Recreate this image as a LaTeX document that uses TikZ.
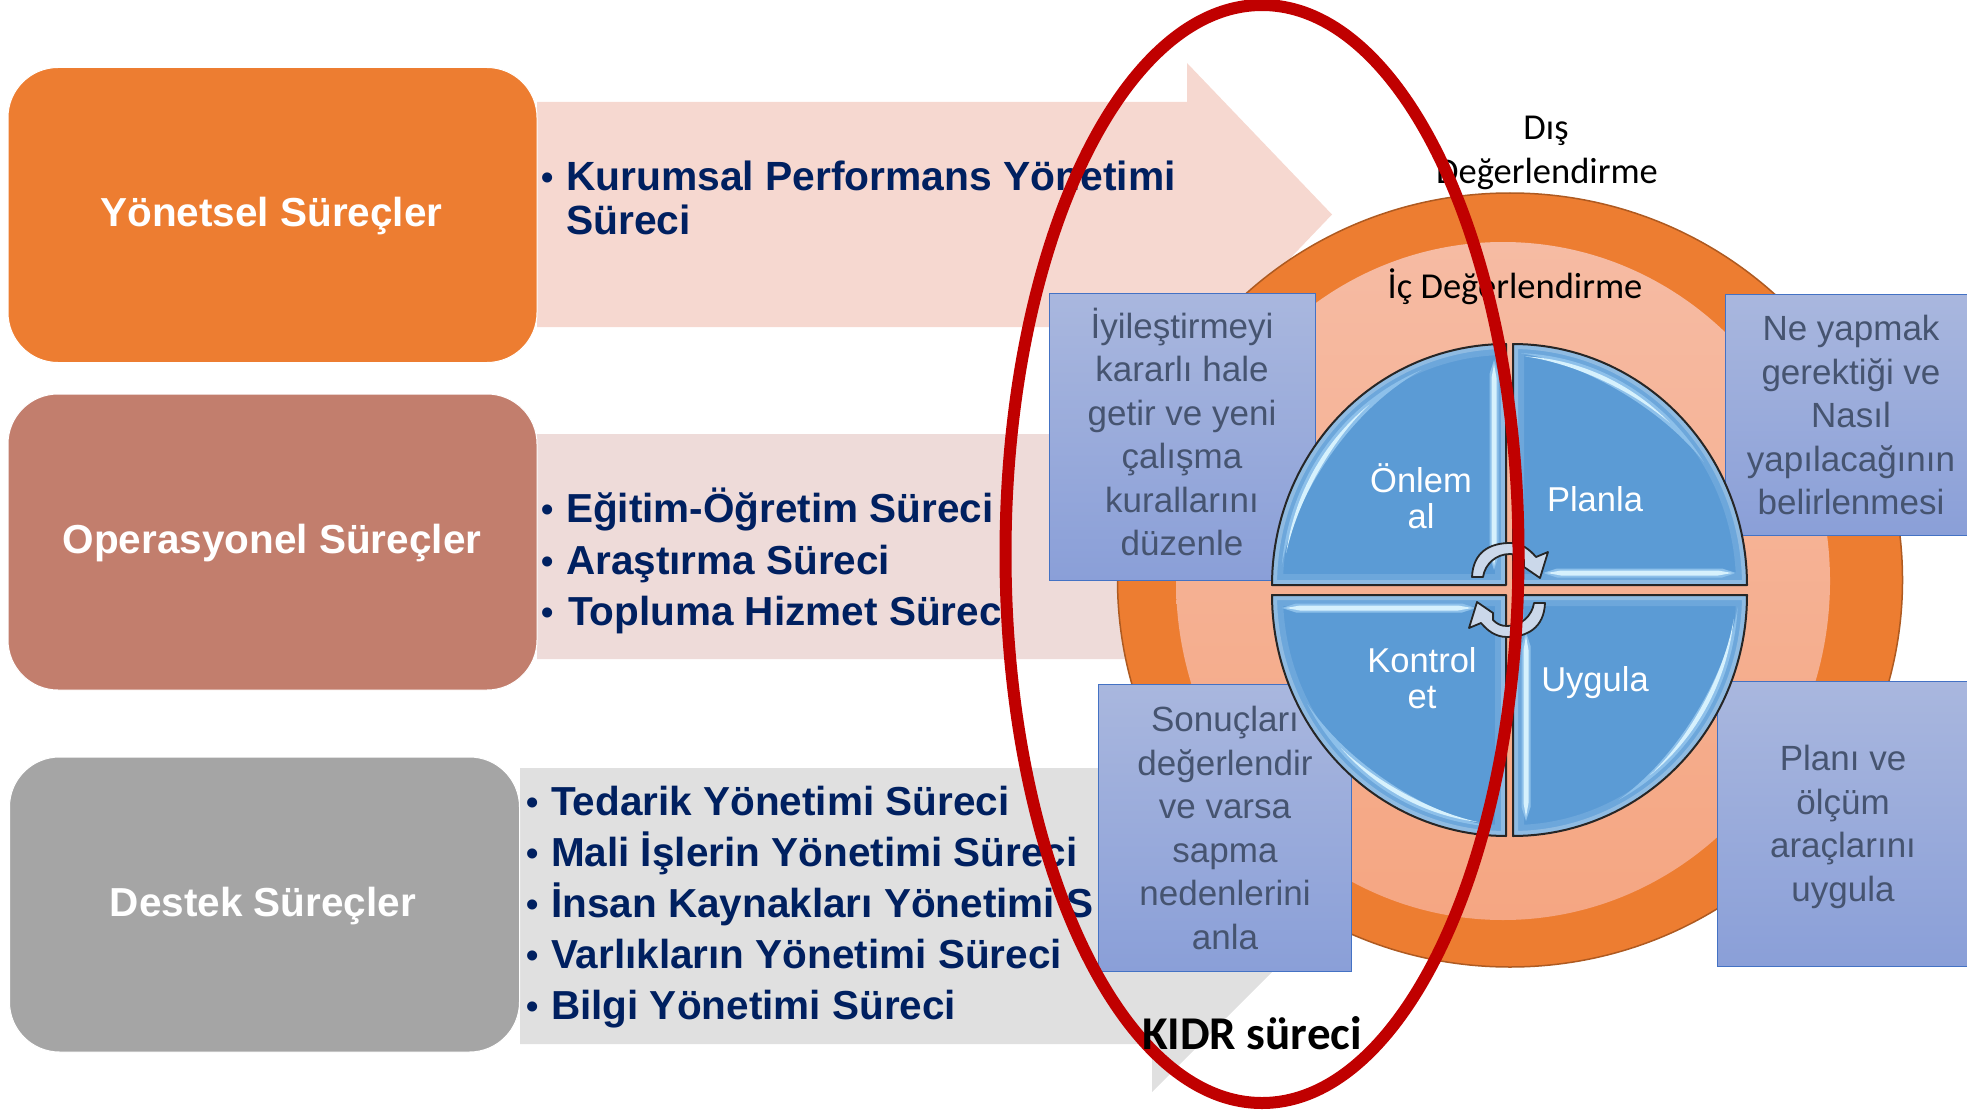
\documentclass[tikz,border=0pt]{standalone}
\usepackage{fontspec}
\setmainfont{Liberation Sans}
\newfontfamily\calib{Carlito}
\usetikzlibrary{shapes.geometric}
\definecolor{cOrange}{HTML}{ED7D31}
\definecolor{cEdge}{HTML}{AE5A21}
\definecolor{cBrown}{HTML}{C27E6D}
\definecolor{cGrey}{HTML}{A5A5A5}
\definecolor{cBandA}{HTML}{F6D8D0}
\definecolor{cBandB}{HTML}{EEDBD9}
\definecolor{cBandC}{HTML}{E0E0E0}
\definecolor{cNavy}{HTML}{002060}
\definecolor{cBlue}{HTML}{5B9BD5}
\definecolor{cGlow}{HTML}{D6F1FD}
\definecolor{cSoft}{HTML}{8DC0EA}
\definecolor{cRimA}{HTML}{8FBBE2}
\definecolor{cRimB}{HTML}{6DA7DB}
\definecolor{cRed}{HTML}{C00000}
\definecolor{cNote}{HTML}{465470}
\definecolor{cTurn}{HTML}{CBD8EA}
\definecolor{cInnerTop}{HTML}{F6BBA3}
\definecolor{cInnerBot}{HTML}{F5A682}
\definecolor{cNoteEdge}{HTML}{4472C4}
\definecolor{cNoteTop}{HTML}{A9B7DE}
\definecolor{cNoteBot}{HTML}{8A9FD8}
\tikzset{
  headbox/.style={draw=white,line width=1pt,rounded corners=50pt,inner sep=0pt,outer sep=0pt},
  headtext/.style={anchor=base,text=white,inner sep=0pt,font=\fontsize{40.5}{48}\selectfont\bfseries},
  listline/.style={anchor=base west,inner sep=0pt,outer sep=0pt,text=cNavy,
    font=\fontsize{40.5}{48}\selectfont\bfseries},
  notebox/.style={draw=cNoteEdge,line width=1pt,top color=cNoteTop,bottom color=cNoteBot,text=cNote,
    align=center,inner sep=0pt,outer sep=0pt,font=\fontsize{35}{43.5}\selectfont},
  pielabel/.style={anchor=base,inner sep=0pt,text=white,font=\fontsize{34.5}{36}\selectfont},
  evallabel/.style={anchor=base,inner sep=0pt,text=black,font=\calib\fontsize{36.5}{44}\selectfont},
  turnarrow/.style={fill=cTurn,draw=black!85,line width=1.8pt,line join=round}
}
\newcommand{\blt}{\makebox[25pt][l]{\raisebox{1pt}{\fontsize{35}{35}\selectfont •}}}
\newcommand{\turnshape}{(-38,-1) .. controls (-37,-26) and (-20,-35) .. (0,-35)
  .. controls (12,-35) and (20,-28) .. (26,-21) -- (38,-26) -- (30,0) -- (14,-11) -- (14,-18)
  .. controls (10,-22) and (6,-24) .. (0,-24) .. controls (-14,-24) and (-25,-14) .. (-27,-1) -- cycle}
% quarter: corner x, corner y, from angle, to angle
\newcommand{\quarterdisc}[4]{%
  \begin{scope}
    \clip (#1,#2) -- plot[domain=#3:#4,samples=50] ({#1+234*cos(\x)},{#2-241*sin(\x)}) -- cycle;
    \fill[cBlue] (#1-240,#2-250) rectangle (#1+240,#2+250);
    \draw[cRimB,line width=22pt] (#1,#2) -- plot[domain=#3:#4,samples=50] ({#1+234*cos(\x)},{#2-241*sin(\x)}) -- cycle;
    \draw[cRimA,line width=10pt] (#1,#2) -- plot[domain=#3:#4,samples=50] ({#1+234*cos(\x)},{#2-241*sin(\x)}) -- cycle;
  \end{scope}}
\newcommand{\quarteredge}[4]{%
  \draw[black!85,line width=2pt,line join=round] (#1,#2) -- plot[domain=#3:#4,samples=50] ({#1+234*cos(\x)},{#2-241*sin(\x)}) -- cycle;}
% tapered arc: corner x, y, from, to, inset, width, colour
\newcommand{\lensarc}[7]{%
  \fill[#7] plot[domain=#3:#4,samples=30] ({#1+(234-#5)*cos(\x)},{#2-(241-#5)*sin(\x)})
    -- plot[domain=#4:#3,samples=30] ({#1+(234-#5-#6*sin((\x-(#3))/((#4)-(#3))*180))*cos(\x)},{#2-(241-#5-#6*sin((\x-(#3))/((#4)-(#3))*180))*sin(\x)}) -- cycle;}
% tapered straight bars: from, to, position, half width, colour
\newcommand{\barH}[5]{\fill[#5] (#1,#3) -- (#1+14,#3-#4) -- (#2-14,#3-#4) -- (#2,#3) -- (#2-14,#3+#4) -- (#1+14,#3+#4) -- cycle;}
\newcommand{\barV}[5]{\fill[#5] (#3,#1) -- (#3-#4,#1+14) -- (#3-#4,#2-14) -- (#3,#2) -- (#3+#4,#2-14) -- (#3+#4,#1+14) -- cycle;}
\begin{document}
\begin{tikzpicture}[x=1pt,y=-1pt]
\useasboundingbox (0,0) rectangle (1967,1110);
\clip (0,0) rectangle (1967,1110);
% arrow bands
\fill[cBandA] (537,102) -- (1187,102) -- (1187,63) -- (1332,214.5) -- (1187,366) -- (1187,327) -- (537,327) -- cycle;
\fill[cBandB] (537,434) -- (1187,434) -- (1187,395) -- (1332,546.5) -- (1187,698) -- (1187,659) -- (537,659) -- cycle;
\fill[cBandC] (520,768) -- (1152,768) -- (1152,718) -- (1339,905) -- (1152,1092) -- (1152,1044) -- (520,1044) -- cycle;
% heads
\node[headbox,fill=cOrange,minimum width=529pt,minimum height=295pt] (yonetsel) at (272.5,215) {};
\node[headbox,fill=cBrown,minimum width=529pt,minimum height=296pt] (operasyonel) at (272.5,542) {};
\node[headbox,fill=cGrey,minimum width=510pt,minimum height=295pt] (destek) at (264.5,904.5) {};
\node[headtext] (yonetselT) at (271.5,226) {Yönetsel Süreçler};
\node[headtext] (operasyonelT) at (272,553) {Operasyonel Süreçler};
\node[headtext] (destekT) at (263,916) {Destek Süreçler};
% lists
\node[listline,font=\fontsize{40.8}{48}\selectfont\bfseries] (la) at (541,191) {\blt Kurumsal Performans Yönetimi};
\node[listline,font=\fontsize{40.8}{48}\selectfont\bfseries] (lb) at (566,234) {Süreci};
\node[listline] (lc) at (541,522) {\blt Eğitim-Öğretim Süreci};
\node[listline] (ld) at (541,574) {\blt Araştırma Süreci};
\node[listline] (le) at (541,625) {\blt\hspace{2pt}Topluma Hizmet Sürec};
\node[listline] (lf) at (526,815) {\blt Tedarik Yönetimi Süreci};
\node[listline] (lg) at (526,866) {\blt Mali İşlerin Yönetimi Süreci};
\node[listline] (lh) at (526,917) {\blt İnsan Kaynakları Yönetimi S};
\node[listline] (li) at (526,968) {\blt Varlıkların Yönetimi Süreci};
\node[listline] (lj) at (526,1019) {\blt Bilgi Yönetimi Süreci};
% circles
\node[ellipse,draw=cEdge,line width=1.5pt,fill=cOrange,inner sep=0pt,outer sep=0pt,minimum width=785pt,minimum height=774pt] (outer) at (1510,580) {};
\node[ellipse,top color=cInnerTop,bottom color=cInnerBot,inner sep=0pt,outer sep=0pt,minimum width=654pt,minimum height=678pt] (inner) at (1503,581) {};
% note boxes
\node[notebox,minimum width=266pt,minimum height=287pt] (noteA) at (1182,437) {İyileştirmeyi\\kararlı hale\\getir ve yeni\\çalışma\\kurallarını\\düzenle\rule[-10pt]{0pt}{10pt}};
\node[notebox,minimum width=252pt,minimum height=241pt] (noteB) at (1851,415) {Ne yapmak\\gerektiği ve\\Nasıl\\yapılacağının\\belirlenmesi};
\node[notebox,minimum width=253pt,minimum height=287pt] (noteC) at (1225,828) {Sonuçları\\değerlendir\\ve varsa\\sapma\\nedenlerini\\anla};
\node[notebox,minimum width=252pt,minimum height=285pt] (noteD) at (1843,824) {\rule{0pt}{31pt}Planı ve\\ölçüm\\araçlarını\\uygula};
% quadrants
\quarterdisc{1506}{585}{180}{90}
\quarterdisc{1513}{585}{90}{0}
\quarterdisc{1506}{595}{180}{270}
\quarterdisc{1513}{595}{270}{360}
% bevel highlights
\lensarc{1506}{585}{175}{112}{9}{9}{cSoft}
\lensarc{1506}{585}{172}{128}{12}{4.5}{cGlow}
\barV{360}{570}{1494}{4.5}{cSoft}
\barV{364}{566}{1494}{2.5}{cGlow}
\lensarc{1513}{585}{88}{32}{9}{9}{cSoft}
\lensarc{1513}{585}{87}{45}{12}{4.5}{cGlow}
\barH{1543}{1736}{573}{4.5}{cSoft}
\barH{1547}{1732}{573}{2.5}{cGlow}
\barH{1282}{1476}{608}{4.5}{cSoft}
\barH{1286}{1472}{608}{2.5}{cGlow}
\lensarc{1506}{595}{208}{266}{9}{9}{cSoft}
\lensarc{1506}{595}{222}{263}{12}{4.5}{cGlow}
\barV{632}{821}{1526}{4.5}{cSoft}
\barV{636}{817}{1526}{2.5}{cGlow}
\lensarc{1513}{595}{-3}{-62}{9}{9}{cSoft}
\lensarc{1513}{595}{-6}{-52}{12}{4.5}{cGlow}
\quarteredge{1506}{585}{180}{90}
\quarteredge{1513}{585}{90}{0}
\quarteredge{1506}{595}{180}{270}
\quarteredge{1513}{595}{270}{360}
% labels
\node[pielabel] (onlema) at (1421,492) {Önlem};
\node[pielabel] (onlemb) at (1421,528) {al};
\node[pielabel] (planla) at (1595,511) {Planla};
\node[pielabel] (kontrola) at (1422,672) {Kontrol};
\node[pielabel] (kontrolb) at (1422,708) {et};
\node[pielabel] (uygula) at (1595,691) {Uygula};
% cycle arrows
\draw[turnarrow,shift={(1510,578)}] \turnshape;
\draw[turnarrow,shift={(1507,602)},rotate=180] \turnshape;
% evaluation labels
\node[evallabel] (disa) at (1546,140) {Dış};
\node[evallabel] (disb) at (1547,184) {Değerlendirme};
\node[evallabel] (ic) at (1515,298.5) {İç Değerlendirme};
% red ellipse
\node[ellipse,draw=cRed,line width=12pt,inner sep=0pt,outer sep=0pt,minimum width=513pt,minimum height=1098pt] (kidr) at (1262,554) {};
\node[anchor=base,inner sep=0pt,text=black,font=\calib\bfseries\fontsize{47}{52}\selectfont] (kidrT) at (1252,1049) {KIDR süreci};
\end{tikzpicture}
\end{document}
